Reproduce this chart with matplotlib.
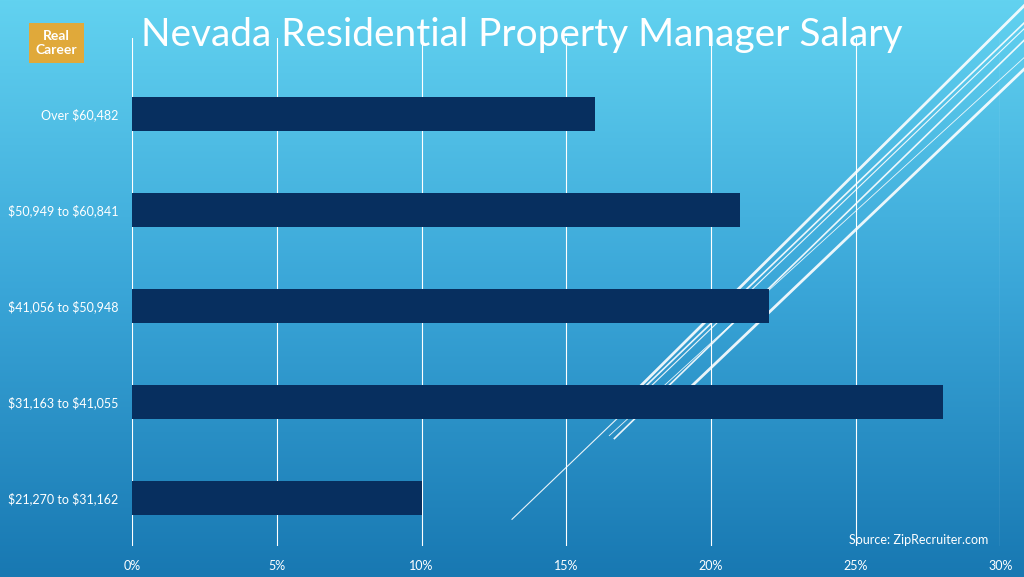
import numpy as np
import matplotlib.pyplot as plt
from matplotlib.colors import LinearSegmentedColormap

plt.rcParams["text.parse_math"] = False
plt.rcParams["font.family"] = ["Lato", "DejaVu Sans"]

categories = ["$21,270 to $31,162", "$31,163 to $41,055", "$41,056 to $50,948",
              "$50,949 to $60,841", "Over $60,482"]
shares = [10, 28, 22, 21, 16]
xticks = [0, 5, 10, 15, 20, 25, 30]

fig = plt.figure(figsize=(10.24, 5.77), dpi=100)

# gradient background
bg = fig.add_axes([0, 0, 1, 1], zorder=-2)
cmap = LinearSegmentedColormap.from_list("bg", ["#1878b2", "#3aa6d8", "#62d2f0"])
grad = np.linspace(0, 1, 256).reshape(-1, 1)
bg.imshow(grad, aspect="auto", cmap=cmap, origin="lower", extent=[0, 1, 0, 1])
bg.set_xlim(0, 1)
bg.set_ylim(0, 1)
bg.axis("off")

# decorative diagonal lines
for x0, y0, x1, y1, lw in [(0.50, 0.10, 1.0, 0.95, 0.8), (0.60, 0.24, 1.0, 0.93, 1.2),
                           (0.625, 0.33, 1.0, 0.99, 2.0), (0.63, 0.33, 1.0, 0.96, 1.2),
                           (0.675, 0.33, 1.0, 0.88, 2.0), (0.595, 0.245, 1.0, 0.90, 0.6)]:
    bg.plot([x0, x1], [y0, y1], color="white", lw=lw, alpha=0.9)

ax = fig.add_axes([0.129, 0.054, 0.848, 0.880])
ax.patch.set_alpha(0)
y = np.arange(len(categories))
ax.barh(y, shares, height=0.35, color="#072f5f", zorder=3)
ax.set_xlim(0, 30)
ax.set_ylim(-0.5, 4.79)
ax.set_xticks(xticks)
ax.set_xticklabels([f"{t}%" for t in xticks], color="white", fontsize=9)
ax.set_yticks(y)
ax.set_yticklabels(categories, color="white", fontsize=9)
ax.tick_params(length=0, pad=10)
ax.xaxis.grid(True, color="white", lw=0.8)
for s in ax.spines.values():
    s.set_visible(False)

fig.text(0.51, 0.94, "Nevada Residential Property Manager Salary", color="white",
         fontsize=28, ha="center", va="center")
fig.text(0.965, 0.058, "Source: ZipRecruiter.com", color="white", fontsize=9, ha="right")

# logo approximation
fig.text(0.055, 0.925, "Real\nCareer", color="white", fontsize=10, fontweight="bold",
         ha="center", va="center",
         bbox=dict(boxstyle="square,pad=0.5", fc="#e0a93a", ec="none"))

fig.savefig("out.png", dpi=100)
